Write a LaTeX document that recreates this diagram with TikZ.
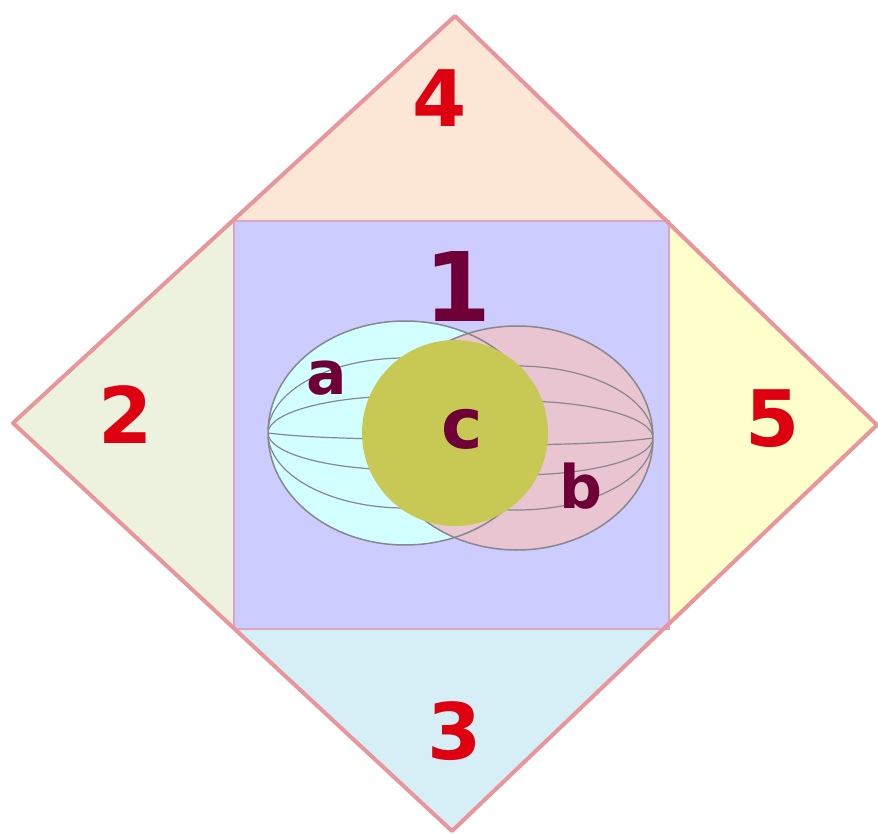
\documentclass[tikz,border=0pt]{standalone}
\usepackage{fontspec}
\setmainfont{DejaVu Sans}
\definecolor{peach}{RGB}{252,230,214}
\definecolor{lgreen}{RGB}{236,242,222}
\definecolor{lyellow}{RGB}{255,255,204}
\definecolor{lblue}{RGB}{214,238,245}
\definecolor{lav}{RGB}{204,204,255}
\definecolor{edgepink}{RGB}{232,150,155}
\definecolor{sqedge}{RGB}{222,165,195}
\definecolor{lcyan}{RGB}{210,255,255}
\definecolor{lpink}{RGB}{236,196,206}
\definecolor{olive}{RGB}{200,200,85}
\definecolor{numred}{RGB}{222,0,16}
\definecolor{maroon}{RGB}{110,0,55}
\definecolor{meridian}{RGB}{135,135,140}
\tikzset{
  num/.style={inner sep=0pt, text=numred, font=\bfseries\fontsize{78}{90}\selectfont},
  lett/.style={inner sep=0pt, text=maroon, font=\bfseries\fontsize{60}{70}\selectfont},
  outl/.style={draw=meridian, line width=1.5pt},
  merid/.style={draw=meridian, line width=1.2pt}
}
\begin{document}
\begin{tikzpicture}[x=1pt,y=-1pt]
\useasboundingbox (0,0) rectangle (878,834);
\fill[white] (0,0) rectangle (878,834);
\coordinate (T) at (455,16);
\coordinate (L) at (13,423);
\coordinate (R) at (877,425);
\coordinate (B) at (452,831);
\begin{scope}
  \clip (T) -- (R) -- (B) -- (L) -- cycle;
  \fill[peach] (0,0) rectangle (878,221);
  \fill[lblue] (0,629) rectangle (878,834);
  \fill[lgreen] (0,221) rectangle (234,629);
  \fill[lyellow] (669,221) rectangle (878,629);
\end{scope}
\fill[lav] (234,221) rectangle (669,629);
\draw[sqedge, line width=2pt] (234,221) rectangle (669,629);
% ellipses
\fill[lcyan] (405,433) ellipse [x radius=137, y radius=112];
\fill[lpink, fill opacity=0.92] (517,438) ellipse [x radius=136, y radius=112];
\begin{scope}
  \clip (405,433) ellipse [x radius=137, y radius=112];
  \draw[merid] (405,433) ellipse [x radius=137, y radius=75];
  \draw[merid] (405,433) ellipse [x radius=137, y radius=37];
  \draw[merid] (268,433) .. controls (330,441) and (480,441) .. (542,433);
\end{scope}
\begin{scope}
  \clip (517,438) ellipse [x radius=136, y radius=112];
  \draw[merid] (517,438) ellipse [x radius=136, y radius=72];
  \draw[merid] (517,438) ellipse [x radius=136, y radius=37];
  \draw[merid] (381,438) .. controls (440,447) and (590,447) .. (653,438);
\end{scope}
\draw[outl] (405,433) ellipse [x radius=137, y radius=112];
\draw[outl] (517,438) ellipse [x radius=136, y radius=112];
\fill[olive] (455,433) circle [radius=93];
% diamond outline
\draw[edgepink, line width=4pt, line join=round] (T) -- (R) -- (B) -- (L) -- cycle;
% labels
\node[num] (n4) at (440,98) {4};
\node[num] (n2) at (126,415) {2};
\node[num] (n5) at (773,419) {5};
\node[num] (n3) at (455,731) {3};
\node[inner sep=0pt, text=maroon, font=\bfseries\fontsize{96}{110}\selectfont] (n1) at (458,287) {1};
\node[lett] (la) at (327,378) {a};
\node[lett] (lb) at (581,486) {b};
\node[lett, font=\bfseries\fontsize{70}{80}\selectfont] (lc) at (462,429) {c};
\end{tikzpicture}
\end{document}
